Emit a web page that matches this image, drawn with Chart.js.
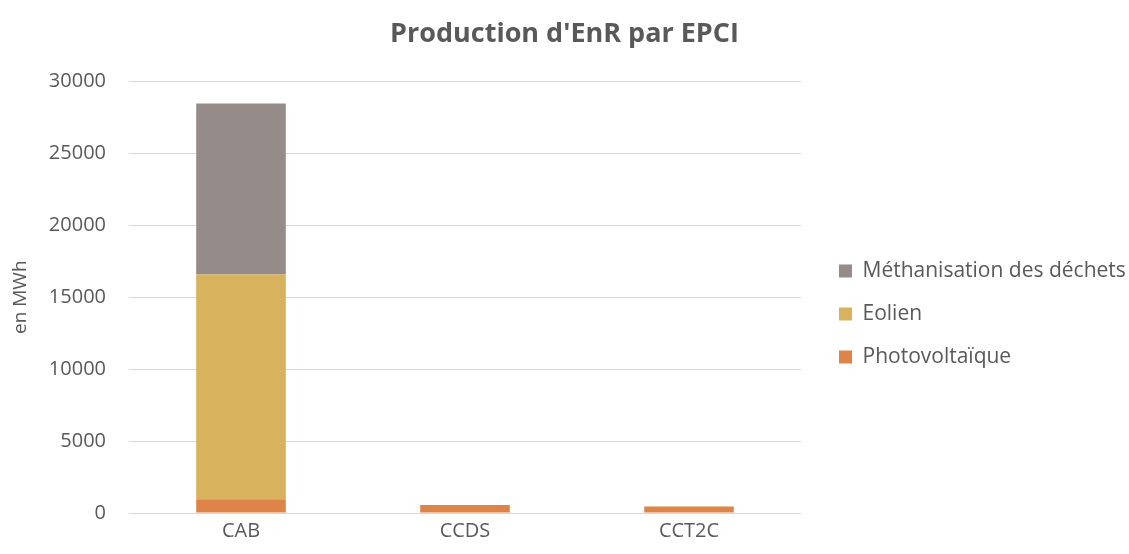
<!DOCTYPE html>
<html>
<head>
<meta charset="utf-8">
<script src="https://cdn.jsdelivr.net/npm/chart.js@4.4.1/dist/chart.umd.min.js"></script>
<style>
  html, body { margin: 0; padding: 0; background: #fff; }
  #wrap { width: 1129px; height: 554px; }
</style>
</head>
<body>
<div id="wrap"><canvas id="myChart"></canvas></div>
<script>
const categories = ["CAB", "CCDS", "CCT2C"];
const photovoltaique = [950, 550, 450];
const eolien = [15630, 0, 0];
const methanisation = [11890, 0, 0];
const yTicks = [0, 5000, 10000, 15000, 20000, 25000, 30000];

const textColor = "#595959";
const fontFamily = "'Open Sans', sans-serif";

/* legend sits in a fixed-width column on the right */
const legendColumn = {
  id: "legendColumn",
  beforeInit(chart) {
    const fit = chart.legend.fit;
    chart.legend.fit = function () {
      fit.bind(chart.legend)();
      this.width = 328;
    };
  },
  afterLayout(chart) {
    chart.legend.left += 16;
    chart.legend.right += 16;
    chart.legend.top += 37;
    chart.legend.bottom += 37;
  }
};

const ctx = document.getElementById("myChart").getContext("2d");

new Chart(ctx, {
  type: "bar",
  data: {
    labels: categories,
    datasets: [
      { label: "Photovoltaïque", data: photovoltaique, backgroundColor: "#df8449" },
      { label: "Eolien", data: eolien, backgroundColor: "#d8b25c" },
      { label: "Méthanisation des déchets", data: methanisation, backgroundColor: "#958b88" }
    ]
  },
  options: {
    responsive: true,
    maintainAspectRatio: false,
    animation: false,
    layout: { padding: 0 },
    datasets: {
      bar: { categoryPercentage: 1, barPercentage: 0.4 }
    },
    plugins: {
      title: {
        display: true,
        text: "Production d'EnR par EPCI",
        color: textColor,
        font: { family: fontFamily, size: 27, weight: "bold" },
        padding: { top: 18, bottom: 31 }
      },
      legend: {
        position: "right",
        reverse: true,
        labels: {
          color: textColor,
          font: { family: fontFamily, size: 21 },
          boxWidth: 13,
          boxHeight: 13,
          padding: 22
        }
      },
      tooltip: { enabled: false }
    },
    scales: {
      x: {
        stacked: true,
        grid: { display: false },
        border: { display: false },
        ticks: { color: textColor, font: { family: fontFamily, size: 20 }, padding: -2 },
        afterFit(scale) { scale.height = 41; }
      },
      y: {
        stacked: true,
        min: 0,
        max: 30000,
        afterBuildTicks(scale) { scale.ticks = yTicks.map(v => ({ value: v })); },
        grid: { color: "#d9d9d9", lineWidth: 1, drawTicks: false },
        border: { display: false },
        ticks: {
          color: textColor,
          font: { family: fontFamily, size: 20 },
          padding: 23,
          callback: v => String(v)
        },
        title: {
          display: true,
          text: "en MWh",
          color: textColor,
          font: { family: fontFamily, size: 19 },
          padding: { top: 9, bottom: 0 }
        },
        afterFit(scale) { scale.width = 129; }
      }
    }
  },
  plugins: [legendColumn]
});
</script>
</body>
</html>
